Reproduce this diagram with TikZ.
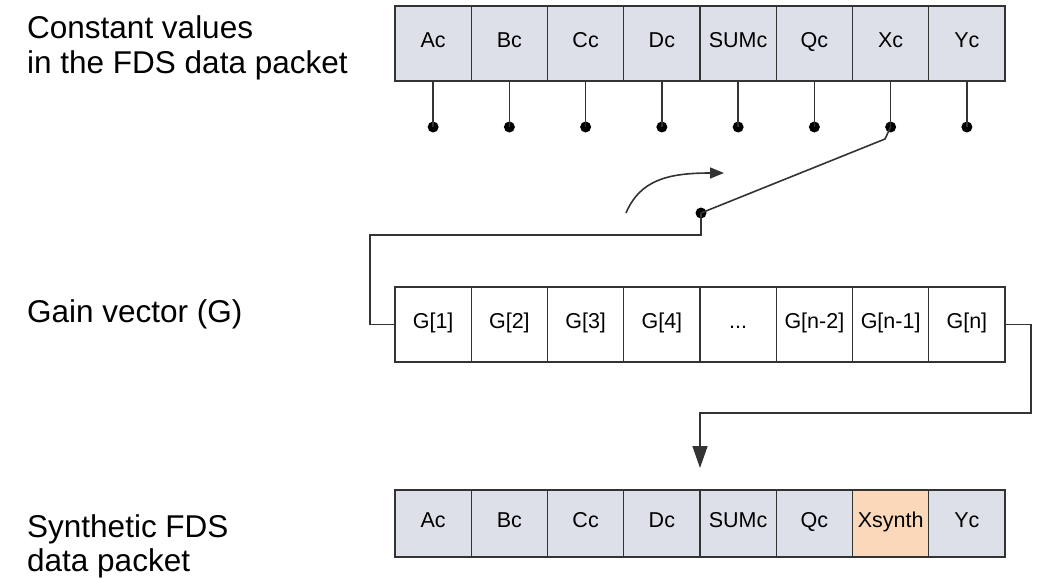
\documentclass[tikz,border=0pt]{standalone}
\usepackage{fontspec}
\setmainfont{Liberation Sans}
\usetikzlibrary{arrows.meta}
\definecolor{cellgray}{HTML}{DDE0E8}
\definecolor{cellpeach}{HTML}{FCD8BA}
\definecolor{ink}{HTML}{333333}
\newcommand{\gaindots}{...}
\begin{document}
\begin{tikzpicture}[x=1pt,y=-1pt,
  cell/.style={draw=ink, line width=1.4pt, minimum width=76.25pt, inner sep=0pt,
    font=\fontsize{21.5}{24}\selectfont, text height=0.72em, text depth=0pt},
  toprow/.style={cell, fill=cellgray, minimum height=75pt},
  gainrow/.style={cell, fill=white, minimum height=75pt},
  outrow/.style={cell, fill=cellgray, minimum height=67pt},
  dot/.style={circle, fill=black, inner sep=0pt, minimum size=11pt},
  wire/.style={draw=ink, line width=1.6pt},
  label/.style={anchor=base west, inner sep=0pt, font=\fontsize{31.5}{35}\selectfont}]
\useasboundingbox (0,0) rectangle (1046,578);

% left-hand captions
\node[label] (cap1) at (27,39) {Constant values};
\node[label] (cap2) at (27,74) {in the FDS data packet};
\node[label] (cap3) at (27,322) {Gain vector (G)};
\node[label] (cap4) at (27,537) {Synthetic FDS};
\node[label] (cap5) at (27,571) {data packet};

% constant values of the packet, each tapped to a contact
\foreach \t [count=\i] in {Ac,Bc,Cc,Dc,SUMc,Qc,Xc,Yc} {
  \node[toprow] (t\i) at ({395+76.25*(\i-0.5)},43.5) {\t};
  \node[dot] (d\i) at ({395+76.25*(\i-0.5)},127) {};
  \draw[wire] (t\i.south) -- (d\i.center);
}

% gain vector
\foreach \t [count=\i] in {G[1],G[2],G[3],G[4],\gaindots,G[n-2],G[n-1],G[n]} {
  \node[gainrow] (g\i) at ({395+76.25*(\i-0.5)},324.5) {\t};
}

% synthetic packet
\foreach \t [count=\i] in {Ac,Bc,Cc,Dc,SUMc,Qc,Xsynth,Yc} {
  \node[outrow] (b\i) at ({395+76.25*(\i-0.5)},523.5) {\t};
}
\node[outrow, fill=cellpeach] (b7) at ({395+76.25*6.5},523.5) {Xsynth};

% selector switch
\node[dot] (sw) at (701,213) {};
\coordinate (kink) at (885,139);
\draw[wire] (sw.center) -- (kink) -- (d7.center);
\coordinate (swarcA) at (626,213);
\coordinate (swarcB) at (724,173);
\draw[wire, -{Triangle[length=14pt,width=11pt]}]
  (swarcA) .. controls (640,180) and (668,173) .. (swarcB);

% switch output into the gain vector
\coordinate (loopL) at (370,235);
\draw[wire] (sw.center) |- (loopL) |- (g1.west);

% gain vector output into the synthetic packet
\coordinate (loopR) at (1031,413);
\coordinate (tip) at (700,468);
\draw[wire, -{Triangle[length=22pt,width=15pt]}] (g8.east) -| (loopR) -| (tip);
\end{tikzpicture}
\end{document}
